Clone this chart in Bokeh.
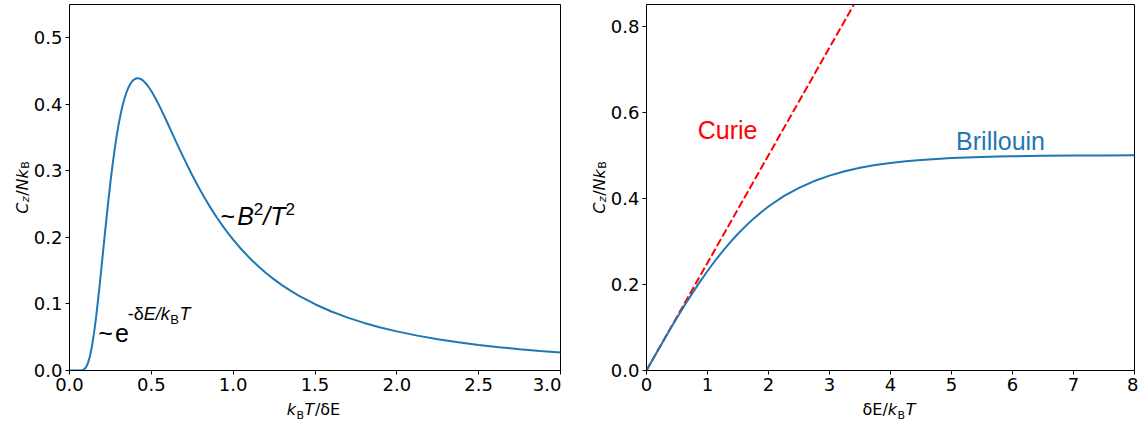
import math
from bokeh.plotting import figure
from bokeh.models import Range1d, FixedTicker, PrintfTickFormatter, Label
from bokeh.layouts import row, column
from bokeh.embed import file_html
from bokeh.resources import INLINE

# ---------------- data ----------------
schottky_t = [0.0, 0.05, 0.0625, 0.075, 0.0875, 0.1, 0.1125, 0.125, 0.1375, 0.15, 0.1625, 0.175,
              0.1875, 0.2, 0.2125, 0.225, 0.2375, 0.25, 0.2625, 0.275, 0.2875, 0.3, 0.3125,
              0.325, 0.3375, 0.35, 0.3625, 0.375, 0.3875, 0.4, 0.4125, 0.42, 0.4375, 0.45,
              0.475, 0.5, 0.525, 0.55, 0.575, 0.6, 0.625, 0.65, 0.675, 0.7, 0.725, 0.75,
              0.775, 0.8, 0.825, 0.85, 0.875, 0.9, 0.925, 0.95, 0.975, 1.0, 1.05, 1.1, 1.15,
              1.2, 1.25, 1.3, 1.35, 1.4, 1.5, 1.6, 1.7, 1.8, 1.9, 2.0, 2.125, 2.25, 2.375,
              2.5, 2.625, 2.75, 2.875, 3.0]
schottky_c = [0.0, 0.0, 0.0, 0.0003, 0.0014, 0.0045, 0.0109, 0.0215, 0.0367, 0.0564, 0.0801, 0.1071,
              0.1360, 0.1662, 0.1967, 0.2265, 0.2554, 0.2826, 0.3078, 0.3309, 0.3514, 0.3695, 0.3853,
              0.3989, 0.4100, 0.4193, 0.4265, 0.4320, 0.4358, 0.4381, 0.4392, 0.4392, 0.4378, 0.4356,
              0.4290, 0.4200, 0.4092, 0.3972, 0.3844, 0.3712, 0.3578, 0.3444, 0.3312, 0.3183, 0.3057, 0.2935,
              0.2818, 0.2705, 0.2597, 0.2493, 0.2395, 0.2300, 0.2211, 0.2125, 0.2044, 0.1966, 0.1822, 0.1692, 0.1574,
              0.1466, 0.1369, 0.1280, 0.1200, 0.1126, 0.0996, 0.0887, 0.0794, 0.0715, 0.0647, 0.0588, 0.0524, 0.0470, 0.0424,
              0.0384, 0.0350, 0.0320, 0.0294, 0.0270]

brillouin_x = [0.0, 0.125, 0.25, 0.375, 0.5, 0.625, 0.75, 0.875, 1.0, 1.125, 1.25, 1.375, 1.5,
               1.625, 1.75, 1.875, 2.0, 2.25, 2.5, 2.75, 3.0, 3.25, 3.5, 3.75, 4.0, 4.25, 4.5,
               4.75, 5.0, 5.25, 5.5, 5.75, 6.0, 6.5, 7.0, 7.5, 8.0]
brillouin_y = [0.0, 0.0312, 0.0622, 0.0927, 0.1225, 0.1514, 0.1792, 0.2058, 0.2311, 0.2549, 0.2773, 0.2982, 0.3176,
               0.3354, 0.3521, 0.3671, 0.3808, 0.4048, 0.4241, 0.4400, 0.4526, 0.4629, 0.4707, 0.4770, 0.4820, 0.4859, 0.4890,
               0.4914, 0.4933, 0.4948, 0.4959, 0.4968, 0.4975, 0.4985, 0.4991, 0.4995, 0.4997]

curie_x = [0.0, 3.4]
curie_y = [0.0, 0.85]

left_xticks = [0.0, 0.5, 1.0, 1.5, 2.0, 2.5, 3.0]
left_yticks = [0.0, 0.1, 0.2, 0.3, 0.4, 0.5]
right_xticks = [0, 1, 2, 3, 4, 5, 6, 7, 8]
right_yticks = [0.0, 0.2, 0.4, 0.6, 0.8]

BLUE = "#1f77b4"
RED = "#ff0000"
H_TOTAL = 420
H_PLOT = 400
H_XLAB = H_TOTAL - H_PLOT
BT, BB = 4, 30
FRAME_H = H_PLOT - BT - BB
TICK_FONT = "DejaVu Sans"
ANN_FONT = "Liberation Sans"
K_BASE = 0.36   # baseline correction of Bokeh labels (fraction of font size)

LIB = {'~': 0.584, ' ': 0.278, 'e': 0.556, '-': 0.333, 'δ': 0.556, 'E': 0.667, '/': 0.278,
       'k': 0.5, 'B': 0.667, 'T': 0.611, '2': 0.556}
DJV = {'C': 0.698, 'z': 0.525, '/': 0.337, 'N': 0.748, 'k': 0.579, 'B': 0.686, 'T': 0.611,
       'δ': 0.612, 'E': 0.632}


def text_w(text, table, size):
    return sum(table.get(c, 0.6) for c in text) * size


def total_w(runs, table):
    return sum(gap + text_w(t, table, s) for (t, s, st, sh, gap) in runs)


def draw_runs(p, x, y, runs, table, font, angle=0.0, color="black", units="data"):
    """Place text runs starting at (x, y); offsets along the text are positive."""
    adv = 0.0
    for (text, size, style, shift, gap) in runs:
        adv += gap
        corr = K_BASE * size
        if angle == 0:
            xo, yo = adv, shift + corr
        else:
            xo, yo = -shift, adv
        p.add_layout(Label(x=x, y=y, x_units=units, y_units=units, x_offset=xo, y_offset=yo,
                           text=text, angle=angle,
                           text_font=font, text_font_size=f"{size}px", text_font_style=style,
                           text_color=color, text_baseline="alphabetic", text_align="left"))
        adv += text_w(text, table, size)


def style_fig(p, xticks, yticks, xfmt, yfmt):
    p.xgrid.visible = False
    p.ygrid.visible = False
    p.outline_line_color = "black"
    p.outline_line_width = 1
    p.background_fill_color = "white"
    p.border_fill_color = "white"
    for ax in (p.xaxis[0], p.yaxis[0]):
        ax.axis_line_color = "black"
        ax.axis_line_width = 1
        ax.major_tick_line_color = "black"
        ax.major_tick_out = 4
        ax.major_tick_in = 0
        ax.minor_tick_out = 0
        ax.minor_tick_in = 0
        ax.major_label_text_font = TICK_FONT
        ax.major_label_text_font_size = "18px"
        ax.major_label_text_color = "black"
    p.xaxis[0].ticker = FixedTicker(ticks=xticks)
    p.yaxis[0].ticker = FixedTicker(ticks=yticks)
    p.xaxis[0].formatter = PrintfTickFormatter(format=xfmt)
    p.yaxis[0].formatter = PrintfTickFormatter(format=yfmt)
    p.xaxis[0].major_label_standoff = 3
    p.yaxis[0].major_label_standoff = 3


def text_fig(w, h):
    f = figure(width=w, height=h, x_range=Range1d(0, w), y_range=Range1d(0, h),
               x_axis_type=None, y_axis_type=None, output_backend="svg",
               toolbar_location=None, min_border=0,
               min_border_left=0, min_border_right=0, min_border_top=0, min_border_bottom=0)
    f.outline_line_color = None
    f.background_fill_color = "white"
    f.border_fill_color = "white"
    for g in f.grid:
        g.visible = False
    return f


ylab = [("C", 16, "italic", 0, 0), ("z", 11, "italic", -3, 0.5), ("/", 16, "normal", 0, 0.5),
        ("N", 16, "italic", 0, 0), ("k", 16, "italic", 0, 0), ("B", 11, "normal", -3, 0.5)]
xlab1 = [("k", 16, "italic", 0, 0), ("B", 11, "normal", -4, 0.5), ("T", 16, "italic", 0, 0.5),
         ("/", 16, "normal", 0, 0.5), ("δE", 16, "normal", 0, 0)]
xlab2 = [("δE/", 16, "normal", 0, 0), ("k", 16, "italic", 0, 0), ("B", 11, "normal", -4, 0.5),
         ("T", 16, "italic", 0, 0.5)]

Y_CENTER = BT + FRAME_H / 2        # canvas px from top
XLAB_BASE = 15                     # canvas px from top of the x-label strip
YLAB_INSET = 8                     # y-label anchor distance from the strip's right edge

# ---------------- left: Schottky anomaly ----------------
YL1_W = 30
L_W, L_BL, L_BR = 531, 36, 1
L_FW = L_W - L_BL - L_BR
p1 = figure(width=L_W, height=H_PLOT, x_range=Range1d(0, 3), y_range=Range1d(0, 0.55),
            output_backend="svg", toolbar_location=None,
            min_border_left=L_BL, min_border_right=L_BR, min_border_top=BT, min_border_bottom=BB)
style_fig(p1, left_xticks, left_yticks, "%.1f", "%.1f")
p1.line(schottky_t, schottky_c, line_width=2, color=BLUE)

ann_exp = [("~", 25, "normal", 0, 0), ("e", 25, "normal", 0, 2.0),
           ("-δ", 18, "normal", 21, -1.0), ("E/k", 18, "italic", 21, 0),
           ("B", 13, "normal", 17, 0.5), ("T", 18, "italic", 21, 0.5)]
draw_runs(p1, 0.176, 0.0435, ann_exp, LIB, ANN_FONT)

ann_pow = [("~", 25, "normal", 0, 0), ("B", 25, "italic", 0, 2.0), ("2", 17, "normal", 10, 0),
           ("/T", 25, "italic", 0, 0), ("2", 17, "normal", 10, 0)]
draw_runs(p1, 0.923, 0.219, ann_pow, LIB, ANN_FONT)

yl1 = text_fig(YL1_W, H_TOTAL)
draw_runs(yl1, YL1_W - YLAB_INSET, Y_CENTER + total_w(ylab, DJV) / 2, ylab, DJV, TICK_FONT,
          angle=math.pi / 2, units="canvas")
xl1 = text_fig(L_W, H_XLAB)
draw_runs(xl1, L_BL + L_FW / 2 - total_w(xlab1, DJV) / 2, XLAB_BASE, xlab1, DJV, TICK_FONT,
          units="canvas")

# ---------------- right: Brillouin vs Curie ----------------
YL2_W = 46
R_W, R_BL, R_BR = 531, 36, 4
R_FW = R_W - R_BL - R_BR
p2 = figure(width=R_W, height=H_PLOT, x_range=Range1d(0, 8), y_range=Range1d(0, 0.85),
            output_backend="svg", toolbar_location=None,
            min_border_left=R_BL, min_border_right=R_BR, min_border_top=BT, min_border_bottom=BB)
style_fig(p2, right_xticks, right_yticks, "%d", "%.1f")
p2.line(curie_x, curie_y, line_width=2, color=RED, line_dash="8 3")
p2.line(brillouin_x, brillouin_y, line_width=2, color=BLUE)

draw_runs(p2, 0.84, 0.5376, [("Curie", 25, "normal", 0, 0)], LIB, ANN_FONT, color=RED)
draw_runs(p2, 5.075, 0.512, [("Brillouin", 25, "normal", 0, 0)], LIB, ANN_FONT, color=BLUE)

yl2 = text_fig(YL2_W, H_TOTAL)
draw_runs(yl2, YL2_W - YLAB_INSET, Y_CENTER + total_w(ylab, DJV) / 2, ylab, DJV, TICK_FONT,
          angle=math.pi / 2, units="canvas")
xl2 = text_fig(R_W, H_XLAB)
draw_runs(xl2, R_BL + R_FW / 2 - total_w(xlab2, DJV) / 2, XLAB_BASE, xlab2, DJV, TICK_FONT,
          units="canvas")

layout = row(yl1, column(p1, xl1), yl2, column(p2, xl2))
open("out.html", "w").write(file_html(layout, INLINE))
